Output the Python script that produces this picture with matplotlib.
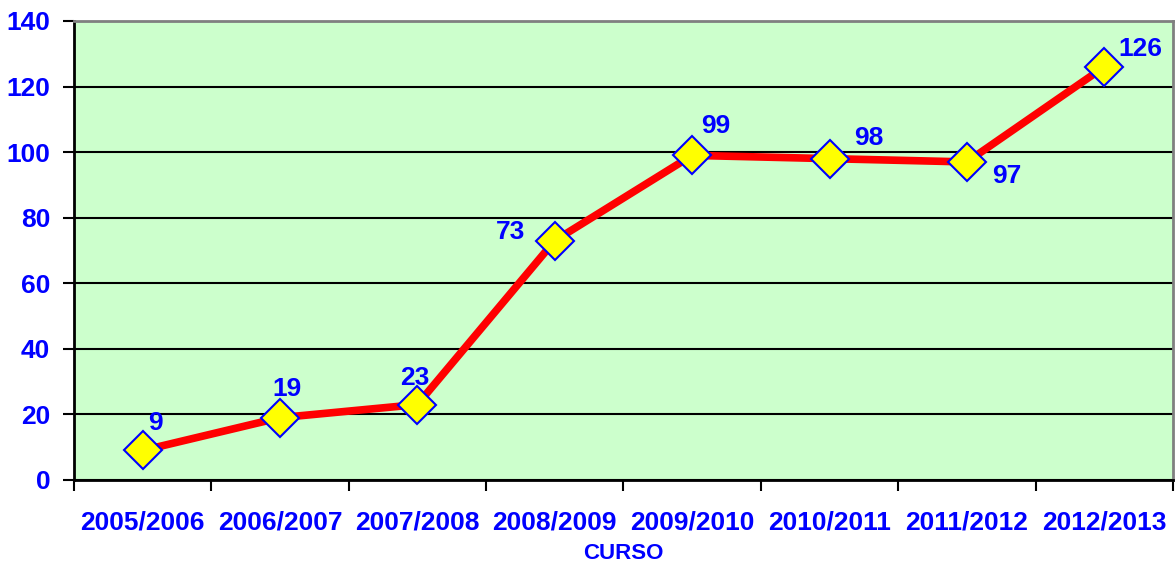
import matplotlib.pyplot as plt

# Datos
cursos = ['2005/2006', '2006/2007', '2007/2008', '2008/2009',
          '2009/2010', '2010/2011', '2011/2012', '2012/2013']
valores = [9, 19, 23, 73, 99, 98, 97, 126]
# desplazamiento de cada etiqueta (puntos)
offsets = [(9, 20), (5, 21), (-2, 19), (-32, 6), (17, 21), (28, 15), (29, -10), (26, 13)]

azul = '#0000FF'
plt.rcParams['font.family'] = ['Liberation Sans', 'DejaVu Sans']

fig = plt.figure(figsize=(11.76, 5.66), dpi=100)
ax = fig.add_axes([0.0629, 0.152, 0.9345, 0.811])
ax.set_facecolor('#CCFFCC')

x = range(len(cursos))
ax.plot(x, valores, color='red', linewidth=5.5, zorder=3,
        marker='D', markersize=19, markerfacecolor='yellow',
        markeredgecolor=azul, markeredgewidth=1.5)

for i, v in enumerate(valores):
    ax.annotate(str(v), (i, v), xytext=offsets[i], textcoords='offset points',
                ha='center', va='center', color=azul, fontsize=19, weight='bold', zorder=4)

ax.set_xlim(-0.5, len(cursos) - 0.5)
ax.set_ylim(0, 140)
ax.set_yticks(range(0, 141, 20))
ax.set_xticks([i - 0.5 for i in range(len(cursos) + 1)])
ax.set_xticklabels([])
ax.set_xticks(list(x), labels=cursos, minor=True)
ax.tick_params(axis='x', which='minor', length=0, pad=22)
ax.tick_params(axis='x', which='major', length=8, width=1.5, direction='out')
ax.tick_params(axis='y', length=8, width=1.5, direction='out', pad=9)
for lbl in ax.get_xticklabels(minor=True) + ax.get_yticklabels():
    lbl.set_color(azul)
    lbl.set_fontsize(19)
    lbl.set_fontweight('bold')

ax.grid(axis='y', color='black', linewidth=1.5)
ax.set_axisbelow(True)
ax.spines['left'].set_linewidth(2)
ax.spines['bottom'].set_linewidth(2)
ax.spines['top'].set_color('gray')
ax.spines['top'].set_linewidth(2)
ax.spines['right'].set_color('gray')
ax.spines['right'].set_linewidth(2)

ax.set_xlabel('CURSO', color=azul, fontsize=16, weight='bold', labelpad=6)

fig.savefig('out.png', dpi=100)
